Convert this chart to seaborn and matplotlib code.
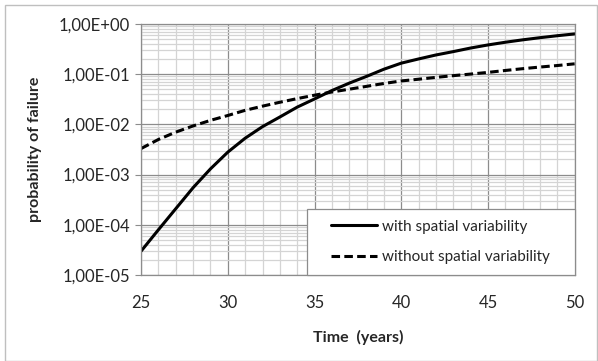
import numpy as np
import pandas as pd
import matplotlib
matplotlib.use("Agg")
import matplotlib.pyplot as plt
import matplotlib.ticker as mticker
import seaborn as sns

# values
years = list(range(25, 51))
with_sv = [3.0e-5, 8.0e-5, 2.1e-4, 5.5e-4, 1.3e-3, 2.8e-3, 5.3e-3, 9.0e-3, 1.4e-2,
           2.2e-2, 3.2e-2, 4.7e-2, 6.6e-2, 9.0e-2, 0.125, 0.165, 0.20, 0.24, 0.28,
           0.33, 0.38, 0.43, 0.48, 0.53, 0.58, 0.63]
without_sv = [3.3e-3, 5.0e-3, 7.0e-3, 9.3e-3, 1.2e-2, 1.5e-2, 1.9e-2, 2.3e-2, 2.75e-2,
              3.25e-2, 3.8e-2, 4.4e-2, 5.0e-2, 5.7e-2, 6.5e-2, 7.3e-2, 7.9e-2, 8.6e-2,
              9.3e-2, 0.100, 0.108, 0.118, 0.128, 0.138, 0.148, 0.160]
series_names = ["with spatial variability", "without spatial variability"]

df = pd.concat([
    pd.DataFrame({"time": years, "pf": with_sv, "serie": series_names[0]}),
    pd.DataFrame({"time": years, "pf": without_sv, "serie": series_names[1]}),
])

sns.set_style("white")
plt.rcParams["font.family"] = ["Lato", "DejaVu Sans"]

fig = plt.figure(figsize=(5.98, 3.61), dpi=100)
ax = fig.add_axes([0.236, 0.238, 0.725, 0.696])

sns.lineplot(data=df, x="time", y="pf", style="serie", color="black", linewidth=2.2,
             dashes={series_names[0]: "", series_names[1]: (2.8, 1.4)}, ax=ax)

ax.set_yscale("log")
ax.set_xlim(25, 50)
ax.set_ylim(1e-5, 1)
ax.xaxis.set_major_locator(mticker.MultipleLocator(5))
ax.xaxis.set_minor_locator(mticker.MultipleLocator(1))
ax.yaxis.set_major_locator(mticker.LogLocator(base=10, numticks=10))
ax.yaxis.set_minor_locator(mticker.LogLocator(base=10, subs=np.arange(2, 10), numticks=20))
ax.yaxis.set_minor_formatter(mticker.NullFormatter())
ax.yaxis.set_major_formatter(mticker.FuncFormatter(
    lambda v, p: ("%.2E" % v).replace(".", ",")))

ax.grid(True, which="major", color="#8c8c8c", linewidth=0.9)
ax.grid(True, which="minor", color="#d4d4d4", linewidth=0.9)
ax.set_axisbelow(True)
for s in ax.spines.values():
    s.set_color("#8c8c8c")
    s.set_linewidth(0.9)

ax.tick_params(axis="y", which="major", length=4, color="#8c8c8c", labelsize=12, pad=4, left=True)
ax.tick_params(axis="y", which="minor", length=0)
ax.tick_params(axis="x", which="both", length=0, labelsize=12, pad=14)

ax.set_xlabel("Time  (years)", fontsize=11.5, fontweight="bold", labelpad=14)
ax.set_ylabel("probability of failure", fontsize=11.5, fontweight="bold", labelpad=12)

# legend box (Excel style: wide frame, entries centred inside)
ax.add_patch(plt.Rectangle((0.382, 0.0), 0.618, 0.263, transform=ax.transAxes,
                           facecolor="white", edgecolor="#8c8c8c", linewidth=0.9,
                           zorder=4, clip_on=False))
leg = ax.legend(loc="center", bbox_to_anchor=(0.69, 0.132),
                fontsize=11, frameon=False, borderaxespad=0.0,
                handlelength=3.0, handletextpad=0.3, labelspacing=1.1,
                borderpad=0.0)
leg.set_zorder(5)

# outer chart border
fig.patches.append(plt.Rectangle((0.008, 0.0), 0.99, 0.985, transform=fig.transFigure,
                                 fill=False, edgecolor="#bfbfbf", linewidth=1))

fig.savefig("out.png", dpi=100)
